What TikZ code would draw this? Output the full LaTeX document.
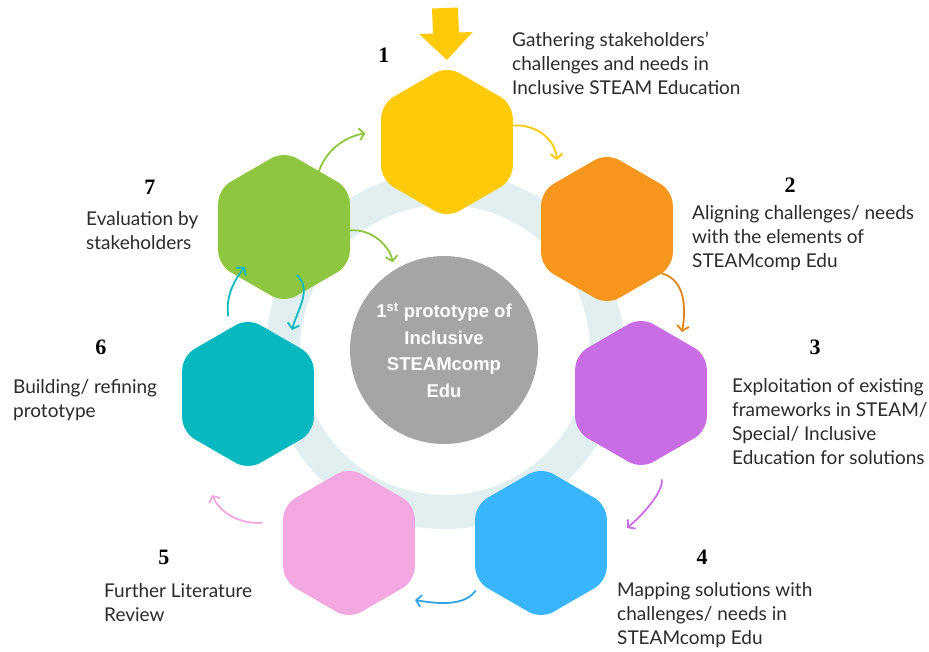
\documentclass[tikz,border=0pt]{standalone}
\usepackage{fontspec}
\newfontfamily\labelfont{Lato}
\newfontfamily\numfont{Liberation Serif}
\newfontfamily\hubfont{Liberation Sans}
\usetikzlibrary{shapes.geometric,arrows.meta}
\definecolor{hexyellow}{HTML}{FFCA08}
\definecolor{hexorange}{HTML}{F7961C}
\definecolor{hexpurple}{HTML}{C96DE5}
\definecolor{hexblue}{HTML}{38B5FD}
\definecolor{hexpink}{HTML}{F4A8E2}
\definecolor{hexteal}{HTML}{06B9C1}
\definecolor{hexgreen}{HTML}{8FC640}
\definecolor{hubgrey}{HTML}{A5A5A5}
\definecolor{ringblue}{HTML}{E2EFF1}
\definecolor{textgrey}{HTML}{2B2B2B}
\tikzset{hexa/.style={regular polygon, regular polygon sides=6, shape border rotate=30, minimum size=152pt, inner sep=0pt, outer sep=0pt, rounded corners=14pt},
  hub/.style={circle, fill=hubgrey, minimum size=188pt, inner sep=0pt, text=white, align=center, font=\hubfont\bfseries\fontsize{18.5}{26.5}\selectfont},
  flow/.style={line width=1.8pt, -{Straight Barb[length=5pt,width=12pt]}},
  steplabel/.style={anchor=base west, align=left, text=textgrey, inner sep=0pt, font=\labelfont\fontsize{19}{24}\selectfont},
  stepnum/.style={anchor=base, inner sep=0pt, font=\numfont\bfseries\fontsize{22}{22}\selectfont}}

\begin{document}
\begin{tikzpicture}[x=1pt,y=1pt]
  \useasboundingbox[fill=white] (-445,-302) rectangle (484,350);
  % ring behind everything
  \draw[ringblue,line width=34pt] (0,0) circle(162);
  \node[hub] (c) at (-1,0) {1\textsuperscript{st} prototype of\\Inclusive\\STEAMcomp\\Edu};
  % the seven steps
  \node[hexa,fill=hexyellow] (h1) at (2,208) {};
  \node[hexa,fill=hexorange] (h2) at (162,121) {};
  \node[hexa,fill=hexpurple] (h3) at (196,-43) {};
  \node[hexa,fill=hexblue]   (h4) at (96,-193) {};
  \node[hexa,fill=hexpink]   (h5) at (-96,-193) {};
  \node[hexa,fill=hexteal]   (h6) at (-197,-44) {};
  \node[hexa,fill=hexgreen]  (h7) at (-161,123) {};
  % entry arrow
  \coordinate (entry) at (0,342);
  \draw[hexyellow,line width=26pt,-{Triangle[length=27pt,width=52pt]}] (entry) -- ([yshift=6pt]h1.90);
  % arrow ends
  \coordinate (e12) at (112,190);
  \coordinate (e23) at (237,18);
  \coordinate (e34) at (182,-178);
  \coordinate (e45) at (-30,-250);
  \coordinate (e56) at (-233,-145);
  \coordinate (e76) at (-153,20);
  \coordinate (e67) at (-200,83);
  \draw[flow,hexyellow] (h1.14) to[out=5,in=95] (e12);
  \draw[flow,hexorange!90!black] (h2.-39) to[out=-15,in=80] (e23);
  \draw[flow,hexpurple,shorten <=20pt] (h3.-77) to[out=-75,in=40] (e34);
  \draw[flow,hexblue!90!black,shorten <=8pt] (h4.214) to[out=-125,in=-10] (e45);
  \draw[flow,hexpink,shorten <=21pt] (h5.160) to[out=190,in=-65] (e56);
  \draw[flow,hexteal] ([shift={(13,-48)}]h7.center) to[out=-45,in=75] (e76);
  \draw[flow,hexteal,shorten <=12pt] (h6.105) to[out=100,in=-130] (e67);
  \draw[flow,hexgreen,shorten >=8pt] (h7.-3) to[out=5,in=100] (c.122);
  \draw[flow,hexgreen,shorten >=16pt] (h7.58) to[out=70,in=190] (h1.170);
  % numbers
  \node[stepnum] (n1) at (-61,287) {1};
  \node[stepnum] (n2) at (345,157) {2};
  \node[stepnum] (n3) at (370,-5) {3};
  \node[stepnum] (n4) at (257,-215) {4};
  \node[stepnum] (n5) at (-281,-215) {5};
  \node[stepnum] (n6) at (-344,-5) {6};
  \node[stepnum] (n7) at (-295,155) {7};
  % descriptions (anchored on the last line)
  \node[steplabel] (t1) at (67,255) {Gathering stakeholders’\\challenges and needs in\\Inclusive STEAM Education};
  \node[steplabel] (t2) at (247,82) {Aligning challenges/ needs\\with the elements of\\STEAMcomp Edu};
  \node[steplabel] (t3) at (287,-115) {Exploitation of existing\\frameworks in STEAM/\\Special/ Inclusive\\Education for solutions};
  \node[steplabel] (t4) at (172,-295) {Mapping solutions with\\challenges/ needs in\\STEAMcomp Edu};
  \node[steplabel] (t5) at (-341,-272) {Further Literature\\Review};
  \node[steplabel] (t6) at (-432,-68) {Building/ refining\\prototype};
  \node[steplabel] (t7) at (-359,100) {Evaluation by\\stakeholders};
\end{tikzpicture}
\end{document}
